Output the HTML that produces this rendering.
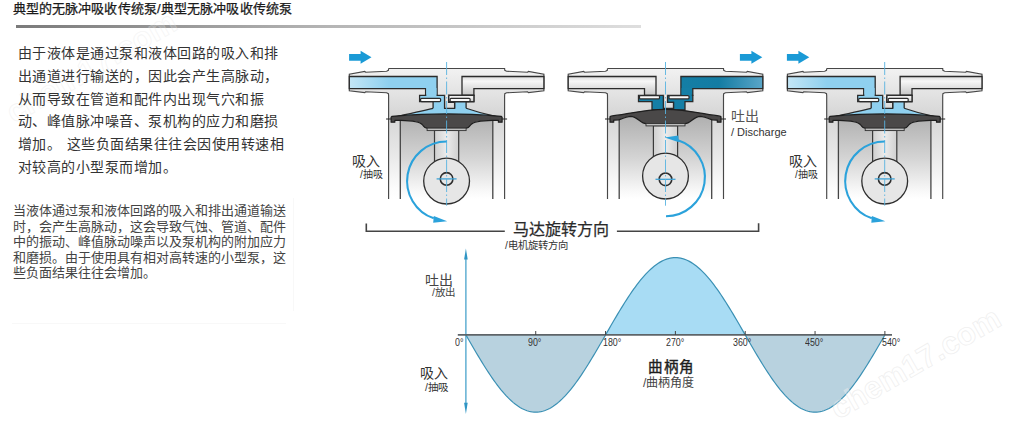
<!DOCTYPE html>
<html lang="zh-CN"><head><meta charset="utf-8"><style>
html,body{margin:0;padding:0;background:#fff;width:1012px;height:429px;overflow:hidden;position:relative}
body{font-family:"Liberation Sans",sans-serif;color:#333}
.t{position:absolute;white-space:nowrap;line-height:1}
.deg{font-size:10.8px;color:#333;transform:scaleX(0.82);transform-origin:0 0}
</style></head><body>
<svg width="1012" height="429" viewBox="0 0 1012 429" style="position:absolute;left:0;top:0">
<defs>
<linearGradient id="gbody" x1="0" y1="68" x2="0" y2="199" gradientUnits="userSpaceOnUse">
<stop offset="0" stop-color="#f2f2f2"/><stop offset="0.36" stop-color="#d6d6d6"/><stop offset="0.6" stop-color="#e4e4e4"/><stop offset="0.92" stop-color="#fcfcfc"/><stop offset="1" stop-color="#ffffff"/></linearGradient>
<linearGradient id="gbody2" x1="0" y1="0" x2="0" y2="1"><stop offset="0" stop-color="#f2f2f2"/><stop offset="1" stop-color="#d8d8d8"/></linearGradient>
<linearGradient id="gcyl" x1="0" y1="0" x2="0" y2="1"><stop offset="0" stop-color="#b0b0b0"/><stop offset="0.5" stop-color="#d4d4d4"/><stop offset="0.9" stop-color="#f8f8f8"/><stop offset="1" stop-color="#ffffff"/></linearGradient>
<linearGradient id="grod" x1="0" y1="0" x2="1" y2="0"><stop offset="0" stop-color="#cfcfcf"/><stop offset="0.5" stop-color="#ececec"/><stop offset="1" stop-color="#d0d0d0"/></linearGradient>
<linearGradient id="gchan" x1="0" y1="0" x2="0" y2="1"><stop offset="0" stop-color="#dcdcdc"/><stop offset="0.25" stop-color="#f7f7f7"/><stop offset="1" stop-color="#c6c6c6"/></linearGradient>
<linearGradient id="lblue" x1="0" y1="0" x2="1" y2="0"><stop offset="0" stop-color="#c4e6f6"/><stop offset="0.45" stop-color="#8fd0ef"/><stop offset="1" stop-color="#8fd0ef"/></linearGradient>
<linearGradient id="dblue" x1="665" y1="0" x2="763" y2="0" gradientUnits="userSpaceOnUse"><stop offset="0" stop-color="#157fa6"/><stop offset="0.55" stop-color="#137ca3"/><stop offset="1" stop-color="#5ba6c8"/></linearGradient>
<linearGradient id="gline" x1="0" y1="0" x2="1" y2="0"><stop offset="0" stop-color="#7a7a7a"/><stop offset="0.5" stop-color="#b5b5b5"/><stop offset="1" stop-color="#dedede"/></linearGradient>
</defs>
<path d="M12,323.5 H286 M293.5,198 V311" stroke="#f8f8f8" stroke-width="1" fill="none"/>
<rect x="16" y="25" width="625" height="3" fill="url(#gline)"/>
<polygon points="388.6,68.5 504.6,68.5 504.8,70.4 506.6,71.2 527.6,72.2 528.4,71.4 543.9,74.3 543.9,90.7 528.4,92.6 527.6,91.8 506.6,92.8 504.8,93.6 504.6,95.6 504.6,199 388.6,199 388.6,95.6 388.4,93.6 386.6,92.8 365.6,91.8 364.8,92.6 349.3,90.7 349.3,74.3 364.8,71.4 365.6,72.2 386.6,71.2 388.4,70.4" fill="url(#gbody)" stroke="none"/>
<rect x="400.3" y="117" width="92.5" height="82" fill="url(#gcyl)"/>
<polyline points="388.6,68.5 504.6,68.5 504.8,70.4 506.6,71.2 527.6,72.2 528.4,71.4 543.9,74.3 543.9,90.7 528.4,92.6 527.6,91.8 506.6,92.8 504.8,93.6 504.6,95.6 504.6,199" fill="none" stroke="#474747" stroke-width="1.15"/>
<polyline points="388.6,199 388.6,95.6 388.4,93.6 386.6,92.8 365.6,91.8 364.8,92.6 349.3,90.7 349.3,74.3 364.8,71.4 365.6,72.2 386.6,71.2 388.4,70.4 388.6,68.5" fill="none" stroke="#474747" stroke-width="1.15"/>
<line x1="400.3" y1="118" x2="400.3" y2="199" stroke="#444" stroke-width="1.3"/>
<line x1="492.8" y1="118" x2="492.8" y2="199" stroke="#444" stroke-width="1.3"/>
<polygon points="462,76.5 543.9,76.5 543.9,88.6 473.9,88.6 473.9,95.3 462,95.3" fill="url(#gchan)" stroke="#2b2b2b" stroke-width="1.3"/>
<polygon points="349.3,76.5 437.1,76.5 437.1,95.3 425.6,95.3 425.6,88.6 349.3,88.6" fill="url(#lblue)" stroke="#2b2b2b" stroke-width="1.3"/>
<polygon points="419.6,95.3 444.6,95.3 444.6,110 433.1,110 433.1,101.7 419.6,101.7" fill="#8fd0ef" stroke="#2b2b2b" stroke-width="1.3"/>
<polygon points="448.6,95.3 473.9,95.3 473.9,101.7 466.1,101.7 466.1,110 454.6,110 454.6,102.3 448.6,102.3" fill="#8fd0ef" stroke="#2b2b2b" stroke-width="1.3"/>
<rect x="448.6" y="95.3" width="25.3" height="6.4" fill="url(#gchan)" stroke="#2b2b2b" stroke-width="1.3"/>
<rect x="426.3" y="88" width="10.2" height="8.5" fill="#8fd0ef"/>
<path d="M433.1,108.3 C416.6,112 406.6,114.5 397.6,116.3 L495.6,116.3 C486.6,114.5 476.6,112 466.1,108.3 Z" fill="#8fd0ef" stroke="none"/>
<path d="M433.1,108.3 C416.6,112 406.6,114.5 397.6,116.3 M495.6,116.3 C486.6,114.5 476.6,112 466.1,108.3" fill="none" stroke="#2b2b2b" stroke-width="1.2"/>
<polygon points="444.6,95.3 448.6,95.3 448.6,102.3 454.6,102.3 454.6,108.3 444.6,108.3" fill="url(#gbody2)" stroke="none"/>
<polyline points="448.6,95.3 448.6,102.3 454.6,102.3 454.6,108.3 444.6,108.3 444.6,95.3" fill="none" stroke="#2b2b2b" stroke-width="1.3"/>
<rect x="420.6" y="98.3" width="20" height="3.3" rx="1" fill="#fafafa" stroke="#2b2b2b" stroke-width="1.2"/>
<rect x="450.1" y="98.3" width="20" height="3.3" rx="1" fill="#fafafa" stroke="#2b2b2b" stroke-width="1.2"/>
<path d="M386.1,119 H391.6 M501.6,119 H507.1" stroke="#222" stroke-width="1"/>
<path d="M392.1,116.3 C411.6,114.8 426.6,113.9 446.6,113.9 C466.6,113.9 481.6,114.8 501.1,116.3 L502.1,117.1 L502.1,122.2 L498.4,122.2 L498.4,120.3 L492.6,120.3 C478.6,120.5 472.6,122 470.6,125 C469.1,127.3 468.1,128.3 465.6,128.3 L427.6,128.3 C425.1,128.3 424.1,127.3 422.6,125 C420.6,122 414.6,120.5 400.6,120.3 L394.8,120.3 L394.8,122.2 L391.1,122.2 L391.1,117.1 Z" fill="#4a4848" stroke="#1e1e1e" stroke-width="1.2" stroke-linejoin="round"/>
<rect x="434.5" y="130.4" width="24.2" height="35.7" fill="url(#grod)" stroke="#3a3a3a" stroke-width="1.2"/>
<rect x="427.1" y="128.1" width="39" height="2.5" fill="#bdbdbd" stroke="#333" stroke-width="0.9"/>
<circle cx="446.6" cy="181.1" r="22.9" fill="#e6e6e6" stroke="#2e2e2e" stroke-width="1.3"/>
<circle cx="446.6" cy="178.9" r="6.3" fill="#e6e6e6" stroke="#2e2e2e" stroke-width="1.6"/>
<line x1="436.6" y1="178.9" x2="456.6" y2="178.9" stroke="#3fa3d6" stroke-width="1.3"/>
<line x1="446.6" y1="62" x2="446.6" y2="205.7" stroke="#58b3e0" stroke-width="0.9" stroke-dasharray="13,2.5,1.5,2.5"/>
<path d="M446.6,141.5 A39.5,39.5 0 0 0 433.74,218.35" fill="none" stroke="#2ba2db" stroke-width="2.1"/>
<polygon points="447.2,221.3 433.8,215.9 433.2,222.7" fill="#2ba2db"/>
<polygon points="607.5,68.5 723.5,68.5 723.7,70.4 725.5,71.2 746.5,72.2 747.3,71.4 762.8,74.3 762.8,90.7 747.3,92.6 746.5,91.8 725.5,92.8 723.7,93.6 723.5,95.6 723.5,199 607.5,199 607.5,95.6 607.3,93.6 605.5,92.8 584.5,91.8 583.7,92.6 568.2,90.7 568.2,74.3 583.7,71.4 584.5,72.2 605.5,71.2 607.3,70.4" fill="url(#gbody)" stroke="none"/>
<rect x="619.2" y="117" width="92.5" height="82" fill="url(#gcyl)"/>
<polyline points="607.5,68.5 723.5,68.5 723.7,70.4 725.5,71.2 746.5,72.2 747.3,71.4 762.8,74.3 762.8,90.7 747.3,92.6 746.5,91.8 725.5,92.8 723.7,93.6 723.5,95.6 723.5,199" fill="none" stroke="#474747" stroke-width="1.15"/>
<polyline points="607.5,199 607.5,95.6 607.3,93.6 605.5,92.8 584.5,91.8 583.7,92.6 568.2,90.7 568.2,74.3 583.7,71.4 584.5,72.2 605.5,71.2 607.3,70.4 607.5,68.5" fill="none" stroke="#474747" stroke-width="1.15"/>
<line x1="619.2" y1="118" x2="619.2" y2="199" stroke="#444" stroke-width="1.3"/>
<line x1="711.7" y1="118" x2="711.7" y2="199" stroke="#444" stroke-width="1.3"/>
<polygon points="568.2,76.5 656,76.5 656,95.3 644.5,95.3 644.5,88.6 568.2,88.6" fill="url(#gchan)" stroke="#2b2b2b" stroke-width="1.3"/>
<polygon points="680.9,76.5 762.8,76.5 762.8,88.6 692.8,88.6 692.8,95.3 680.9,95.3" fill="url(#dblue)" stroke="#2b2b2b" stroke-width="1.3"/>
<polygon points="638.5,95.3 663.5,95.3 663.5,110 652,110 652,101.7 638.5,101.7" fill="#157fa6" stroke="#2b2b2b" stroke-width="1.3"/>
<polygon points="667.5,95.3 692.8,95.3 692.8,101.7 685,101.7 685,110 673.5,110 673.5,102.3 667.5,102.3" fill="#157fa6" stroke="#2b2b2b" stroke-width="1.3"/>
<rect x="681.6" y="88" width="10.2" height="8.5" fill="#157fa6"/>
<polygon points="663.5,95.3 667.5,95.3 667.5,102.3 673.5,102.3 673.5,108.3 663.5,108.3" fill="url(#gbody2)" stroke="none"/>
<polyline points="667.5,95.3 667.5,102.3 673.5,102.3 673.5,108.3 663.5,108.3 663.5,95.3" fill="none" stroke="#2b2b2b" stroke-width="1.3"/>
<rect x="639.5" y="95.6" width="20" height="3.3" rx="1" fill="#fafafa" stroke="#2b2b2b" stroke-width="1.2"/>
<rect x="669" y="95.6" width="20" height="3.3" rx="1" fill="#fafafa" stroke="#2b2b2b" stroke-width="1.2"/>
<path d="M605,119 H610.5 M720.5,119 H726" stroke="#222" stroke-width="1"/>
<path d="M611.2,116 C623.5,115 643.5,109.3 665.5,109.3 C687.5,109.3 707.5,115 719.8,116 L721,116.8 L721,122.2 L717.3,122.2 L717.3,120.2 L712.5,120 C707.5,118 703.5,116.3 700.2,116.3 C693.5,116.5 690.5,123.7 684.9,123.7 L646.1,123.7 C640.5,123.7 637.5,116.5 630.8,116.3 C627.5,116.3 623.5,118 618.5,120 L613.7,120.2 L613.7,122.2 L610,122.2 L610,116.8 Z" fill="#4a4848" stroke="#1e1e1e" stroke-width="1.2" stroke-linejoin="round"/>
<rect x="653.4" y="125.7" width="24.2" height="35.4" fill="url(#grod)" stroke="#3a3a3a" stroke-width="1.2"/>
<rect x="646" y="123.5" width="39" height="2.4" fill="#bdbdbd" stroke="#333" stroke-width="0.9"/>
<circle cx="665.5" cy="176.1" r="22.9" fill="#e6e6e6" stroke="#2e2e2e" stroke-width="1.3"/>
<circle cx="665.5" cy="179.3" r="6.3" fill="#e6e6e6" stroke="#2e2e2e" stroke-width="1.6"/>
<line x1="655.5" y1="179.3" x2="675.5" y2="179.3" stroke="#3fa3d6" stroke-width="1.3"/>
<line x1="665.5" y1="62" x2="665.5" y2="205.7" stroke="#58b3e0" stroke-width="0.9" stroke-dasharray="13,2.5,1.5,2.5"/>
<path d="M678.02,140.3 A38.9,38.9 0 0 1 666,216.2" fill="none" stroke="#2ba2db" stroke-width="2.1"/>
<polygon points="664.7,137.4 678.3,135.6 678.9,142.3" fill="#2ba2db"/>
<polygon points="826.7,68.5 942.7,68.5 942.9,70.4 944.7,71.2 965.7,72.2 966.5,71.4 982,74.3 982,90.7 966.5,92.6 965.7,91.8 944.7,92.8 942.9,93.6 942.7,95.6 942.7,199 826.7,199 826.7,95.6 826.5,93.6 824.7,92.8 803.7,91.8 802.9,92.6 787.4,90.7 787.4,74.3 802.9,71.4 803.7,72.2 824.7,71.2 826.5,70.4" fill="url(#gbody)" stroke="none"/>
<rect x="838.4" y="117" width="92.5" height="82" fill="url(#gcyl)"/>
<polyline points="826.7,68.5 942.7,68.5 942.9,70.4 944.7,71.2 965.7,72.2 966.5,71.4 982,74.3 982,90.7 966.5,92.6 965.7,91.8 944.7,92.8 942.9,93.6 942.7,95.6 942.7,199" fill="none" stroke="#474747" stroke-width="1.15"/>
<polyline points="826.7,199 826.7,95.6 826.5,93.6 824.7,92.8 803.7,91.8 802.9,92.6 787.4,90.7 787.4,74.3 802.9,71.4 803.7,72.2 824.7,71.2 826.5,70.4 826.7,68.5" fill="none" stroke="#474747" stroke-width="1.15"/>
<line x1="838.4" y1="118" x2="838.4" y2="199" stroke="#444" stroke-width="1.3"/>
<line x1="930.9" y1="118" x2="930.9" y2="199" stroke="#444" stroke-width="1.3"/>
<polygon points="900.1,76.5 982,76.5 982,88.6 912,88.6 912,95.3 900.1,95.3" fill="url(#gchan)" stroke="#2b2b2b" stroke-width="1.3"/>
<polygon points="787.4,76.5 875.2,76.5 875.2,95.3 863.7,95.3 863.7,88.6 787.4,88.6" fill="url(#lblue)" stroke="#2b2b2b" stroke-width="1.3"/>
<polygon points="857.7,95.3 882.7,95.3 882.7,110 871.2,110 871.2,101.7 857.7,101.7" fill="#8fd0ef" stroke="#2b2b2b" stroke-width="1.3"/>
<polygon points="886.7,95.3 912,95.3 912,101.7 904.2,101.7 904.2,110 892.7,110 892.7,102.3 886.7,102.3" fill="#8fd0ef" stroke="#2b2b2b" stroke-width="1.3"/>
<rect x="886.7" y="95.3" width="25.3" height="6.4" fill="url(#gchan)" stroke="#2b2b2b" stroke-width="1.3"/>
<rect x="864.4" y="88" width="10.2" height="8.5" fill="#8fd0ef"/>
<path d="M871.2,108.3 C854.7,112 844.7,114.5 835.7,116.3 L933.7,116.3 C924.7,114.5 914.7,112 904.2,108.3 Z" fill="#8fd0ef" stroke="none"/>
<path d="M871.2,108.3 C854.7,112 844.7,114.5 835.7,116.3 M933.7,116.3 C924.7,114.5 914.7,112 904.2,108.3" fill="none" stroke="#2b2b2b" stroke-width="1.2"/>
<polygon points="882.7,95.3 886.7,95.3 886.7,102.3 892.7,102.3 892.7,108.3 882.7,108.3" fill="url(#gbody2)" stroke="none"/>
<polyline points="886.7,95.3 886.7,102.3 892.7,102.3 892.7,108.3 882.7,108.3 882.7,95.3" fill="none" stroke="#2b2b2b" stroke-width="1.3"/>
<rect x="858.7" y="98.3" width="20" height="3.3" rx="1" fill="#fafafa" stroke="#2b2b2b" stroke-width="1.2"/>
<rect x="888.2" y="98.3" width="20" height="3.3" rx="1" fill="#fafafa" stroke="#2b2b2b" stroke-width="1.2"/>
<path d="M824.2,119 H829.7 M939.7,119 H945.2" stroke="#222" stroke-width="1"/>
<path d="M830.2,116.3 C849.7,114.8 864.7,113.9 884.7,113.9 C904.7,113.9 919.7,114.8 939.2,116.3 L940.2,117.1 L940.2,122.2 L936.5,122.2 L936.5,120.3 L930.7,120.3 C916.7,120.5 910.7,122 908.7,125 C907.2,127.3 906.2,128.3 903.7,128.3 L865.7,128.3 C863.2,128.3 862.2,127.3 860.7,125 C858.7,122 852.7,120.5 838.7,120.3 L832.9,120.3 L832.9,122.2 L829.2,122.2 L829.2,117.1 Z" fill="#4a4848" stroke="#1e1e1e" stroke-width="1.2" stroke-linejoin="round"/>
<rect x="872.6" y="130.4" width="24.2" height="35.7" fill="url(#grod)" stroke="#3a3a3a" stroke-width="1.2"/>
<rect x="865.2" y="128.1" width="39" height="2.5" fill="#bdbdbd" stroke="#333" stroke-width="0.9"/>
<circle cx="884.7" cy="181.1" r="22.9" fill="#e6e6e6" stroke="#2e2e2e" stroke-width="1.3"/>
<circle cx="884.7" cy="178.9" r="6.3" fill="#e6e6e6" stroke="#2e2e2e" stroke-width="1.6"/>
<line x1="874.7" y1="178.9" x2="894.7" y2="178.9" stroke="#3fa3d6" stroke-width="1.3"/>
<line x1="884.7" y1="62" x2="884.7" y2="205.7" stroke="#58b3e0" stroke-width="0.9" stroke-dasharray="13,2.5,1.5,2.5"/>
<path d="M884.7,141.5 A39.5,39.5 0 0 0 871.84,218.35" fill="none" stroke="#2ba2db" stroke-width="2.1"/>
<polygon points="885.3,221.3 871.9,215.9 871.3,222.7" fill="#2ba2db"/>
<polygon points="349.1,54 360.6,54 360.6,50.8 371.5,57.3 360.6,63.8 360.6,60.8 349.1,60.8" fill="#1a9ad6"/>
<polygon points="739.9,54 751.4,54 751.4,50.8 762.3,57.3 751.4,63.8 751.4,60.8 739.9,60.8" fill="#1a9ad6"/>
<polygon points="786.9,54 798.4,54 798.4,50.8 809.3,57.3 798.4,63.8 798.4,60.8 786.9,60.8" fill="#1a9ad6"/>
<polyline points="366.3,223.4 366.3,231.2 504.8,231.2" fill="none" stroke="#444" stroke-width="1.6"/>
<polyline points="616.9,231.2 758.6,231.2 758.6,223.3" fill="none" stroke="#444" stroke-width="1.6"/>
<polygon points="465.9,334.9 468.23,338.95 470.56,342.98 472.88,346.99 475.21,350.97 477.54,354.91 479.87,358.79 482.19,362.6 484.52,366.34 486.85,369.99 489.18,373.55 491.5,377 493.83,380.34 496.16,383.55 498.49,386.62 500.81,389.56 503.14,392.35 505.47,394.97 507.8,397.44 510.13,399.73 512.45,401.84 514.78,403.77 517.11,405.52 519.44,407.07 521.76,408.42 524.09,409.57 526.42,410.51 528.75,411.25 531.07,411.78 533.4,412.09 535.73,412.2 538.06,412.09 540.39,411.78 542.71,411.25 545.04,410.51 547.37,409.57 549.7,408.42 552.02,407.07 554.35,405.52 556.68,403.77 559.01,401.84 561.33,399.73 563.66,397.44 565.99,394.97 568.32,392.35 570.64,389.56 572.97,386.62 575.3,383.55 577.63,380.34 579.96,377 582.28,373.55 584.61,369.99 586.94,366.34 589.27,362.6 591.59,358.79 593.92,354.91 596.25,350.97 598.58,346.99 600.9,342.98 603.23,338.95 605.56,334.9" fill="#b8d2df"/>
<polygon points="605.56,334.9 607.89,330.85 610.22,326.82 612.54,322.81 614.87,318.83 617.2,314.89 619.53,311.01 621.85,307.2 624.18,303.46 626.51,299.81 628.84,296.25 631.16,292.8 633.49,289.46 635.82,286.25 638.15,283.18 640.47,280.24 642.8,277.45 645.13,274.83 647.46,272.36 649.79,270.07 652.11,267.96 654.44,266.03 656.77,264.28 659.1,262.73 661.42,261.38 663.75,260.23 666.08,259.29 668.41,258.55 670.73,258.02 673.06,257.71 675.39,257.6 677.72,257.71 680.05,258.02 682.37,258.55 684.7,259.29 687.03,260.23 689.36,261.38 691.68,262.73 694.01,264.28 696.34,266.03 698.67,267.96 700.99,270.07 703.32,272.36 705.65,274.83 707.98,277.45 710.3,280.24 712.63,283.18 714.96,286.25 717.29,289.46 719.62,292.8 721.94,296.25 724.27,299.81 726.6,303.46 728.93,307.2 731.25,311.01 733.58,314.89 735.91,318.83 738.24,322.81 740.56,326.82 742.89,330.85 745.22,334.9" fill="#a8dcf4"/>
<polygon points="745.22,334.9 747.55,338.95 749.88,342.98 752.2,346.99 754.53,350.97 756.86,354.91 759.19,358.79 761.51,362.6 763.84,366.34 766.17,369.99 768.5,373.55 770.82,377 773.15,380.34 775.48,383.55 777.81,386.62 780.13,389.56 782.46,392.35 784.79,394.97 787.12,397.44 789.45,399.73 791.77,401.84 794.1,403.77 796.43,405.52 798.76,407.07 801.08,408.42 803.41,409.57 805.74,410.51 808.07,411.25 810.39,411.78 812.72,412.09 815.05,412.2 817.38,412.09 819.71,411.78 822.03,411.25 824.36,410.51 826.69,409.57 829.02,408.42 831.34,407.07 833.67,405.52 836,403.77 838.33,401.84 840.65,399.73 842.98,397.44 845.31,394.97 847.64,392.35 849.96,389.56 852.29,386.62 854.62,383.55 856.95,380.34 859.28,377 861.6,373.55 863.93,369.99 866.26,366.34 868.59,362.6 870.91,358.79 873.24,354.91 875.57,350.97 877.9,346.99 880.22,342.98 882.55,338.95 884.88,334.9" fill="#b8d2df"/>
<polyline points="465.9,334.9 467.65,337.93 469.39,340.96 471.14,343.99 472.88,346.99 474.63,349.98 476.37,352.95 478.12,355.88 479.87,358.79 481.61,361.65 483.36,364.48 485.1,367.26 486.85,369.99 488.59,372.67 490.34,375.29 492.09,377.85 493.83,380.34 495.58,382.76 497.32,385.1 499.07,387.37 500.81,389.56 502.56,391.66 504.31,393.68 506.05,395.6 507.8,397.44 509.54,399.17 511.29,400.81 513.04,402.34 514.78,403.77 516.53,405.1 518.27,406.32 520.02,407.42 521.76,408.42 523.51,409.3 525.26,410.06 527,410.71 528.75,411.25 530.49,411.66 532.24,411.96 533.98,412.14 535.73,412.2 537.48,412.14 539.22,411.96 540.97,411.66 542.71,411.25 544.46,410.71 546.2,410.06 547.95,409.3 549.7,408.42 551.44,407.42 553.19,406.32 554.93,405.1 556.68,403.77 558.42,402.34 560.17,400.81 561.92,399.17 563.66,397.44 565.41,395.6 567.15,393.68 568.9,391.66 570.64,389.56 572.39,387.37 574.14,385.1 575.88,382.76 577.63,380.34 579.37,377.85 581.12,375.29 582.87,372.67 584.61,369.99 586.36,367.26 588.1,364.48 589.85,361.65 591.59,358.79 593.34,355.88 595.09,352.95 596.83,349.98 598.58,346.99 600.32,343.99 602.07,340.96 603.81,337.93 605.56,334.9 607.31,331.87 609.05,328.84 610.8,325.81 612.54,322.81 614.29,319.82 616.03,316.85 617.78,313.92 619.53,311.01 621.27,308.15 623.02,305.32 624.76,302.54 626.51,299.81 628.25,297.13 630,294.51 631.75,291.95 633.49,289.46 635.24,287.04 636.98,284.7 638.73,282.43 640.47,280.24 642.22,278.14 643.97,276.12 645.71,274.2 647.46,272.36 649.2,270.63 650.95,268.99 652.7,267.46 654.44,266.03 656.19,264.7 657.93,263.48 659.68,262.38 661.42,261.38 663.17,260.5 664.92,259.74 666.66,259.09 668.41,258.55 670.15,258.14 671.9,257.84 673.64,257.66 675.39,257.6 677.14,257.66 678.88,257.84 680.63,258.14 682.37,258.55 684.12,259.09 685.86,259.74 687.61,260.5 689.36,261.38 691.1,262.38 692.85,263.48 694.59,264.7 696.34,266.03 698.08,267.46 699.83,268.99 701.58,270.63 703.32,272.36 705.07,274.2 706.81,276.12 708.56,278.14 710.3,280.24 712.05,282.43 713.8,284.7 715.54,287.04 717.29,289.46 719.03,291.95 720.78,294.51 722.53,297.13 724.27,299.81 726.02,302.54 727.76,305.32 729.51,308.15 731.25,311.01 733,313.92 734.75,316.85 736.49,319.82 738.24,322.81 739.98,325.81 741.73,328.84 743.47,331.87 745.22,334.9 746.97,337.93 748.71,340.96 750.46,343.99 752.2,346.99 753.95,349.98 755.69,352.95 757.44,355.88 759.19,358.79 760.93,361.65 762.68,364.48 764.42,367.26 766.17,369.99 767.91,372.67 769.66,375.29 771.41,377.85 773.15,380.34 774.9,382.76 776.64,385.1 778.39,387.37 780.13,389.56 781.88,391.66 783.63,393.68 785.37,395.6 787.12,397.44 788.86,399.17 790.61,400.81 792.36,402.34 794.1,403.77 795.85,405.1 797.59,406.32 799.34,407.42 801.08,408.42 802.83,409.3 804.58,410.06 806.32,410.71 808.07,411.25 809.81,411.66 811.56,411.96 813.3,412.14 815.05,412.2 816.8,412.14 818.54,411.96 820.29,411.66 822.03,411.25 823.78,410.71 825.52,410.06 827.27,409.3 829.02,408.42 830.76,407.42 832.51,406.32 834.25,405.1 836,403.77 837.74,402.34 839.49,400.81 841.24,399.17 842.98,397.44 844.73,395.6 846.47,393.68 848.22,391.66 849.96,389.56 851.71,387.37 853.46,385.1 855.2,382.76 856.95,380.34 858.69,377.85 860.44,375.29 862.19,372.67 863.93,369.99 865.68,367.26 867.42,364.48 869.17,361.65 870.91,358.79 872.66,355.88 874.41,352.95 876.15,349.98 877.9,346.99 879.64,343.99 881.39,340.96 883.13,337.93 884.88,334.9" fill="none" stroke="#3a90b4" stroke-width="1.2"/>
<line x1="465.9" y1="256" x2="465.9" y2="408" stroke="#3a9cc8" stroke-width="1.2"/>
<polygon points="465.9,248.4 467.7,259.6 464.1,259.6" fill="#2f95c4"/>
<polygon points="465.9,414 467.7,402.8 464.1,402.8" fill="#2f95c4"/>
<line x1="457.8" y1="334.9" x2="892" y2="334.9" stroke="#5e6468" stroke-width="1.6"/>
<line x1="535.73" y1="331" x2="535.73" y2="335" stroke="#444" stroke-width="1"/>
<line x1="605.56" y1="331" x2="605.56" y2="335" stroke="#444" stroke-width="1"/>
<line x1="675.39" y1="331" x2="675.39" y2="335" stroke="#444" stroke-width="1"/>
<line x1="745.22" y1="331" x2="745.22" y2="335" stroke="#444" stroke-width="1"/>
<line x1="815.05" y1="331" x2="815.05" y2="335" stroke="#444" stroke-width="1"/>
<line x1="884.88" y1="331" x2="884.88" y2="335" stroke="#444" stroke-width="1"/>
<g font-family="Liberation Sans" font-size="31.5" font-weight="bold" fill="#ffffff" fill-opacity="0.3" stroke="#e2e2e2" stroke-opacity="0.55" stroke-width="0.8">
<text x="0" y="0" transform="translate(838,420) rotate(-30)">chem17.com</text>
<text x="0" y="0" transform="translate(14,124) rotate(-30)" opacity="0.6">chem17.com</text>
</g>
</svg>
<div class="t" style="left:12.5px;top:2px;font-size:13px;letter-spacing:0.14px;color:#1a1a1a;-webkit-text-stroke:0.25px #1a1a1a">典型的无脉冲吸收传统泵/典型无脉冲吸收传统泵</div>
<div class="t" style="left:17.5px;top:42px;font-size:14px;letter-spacing:0.5px;line-height:22.8px;color:#333">由于液体是通过泵和液体回路的吸入和排<br>出通道进行输送的，因此会产生高脉动，<br>从而导致在管道和配件内出现气穴和振<br>动、峰值脉冲噪音、泵机构的应力和磨损<br>增加。<span style="letter-spacing:2px"> </span>这些负面结果往往会因使用转速相<br>对较高的小型泵而增加。</div>
<div class="t" style="left:13px;top:203px;font-size:13px;line-height:15.5px;color:#444">当液体通过泵和液体回路的吸入和排出通道输送<br>时，会产生高脉动，这会导致气蚀、管道、配件<br>中的振动、峰值脉动噪声以及泵机构的附加应力<br>和磨损。由于使用具有相对高转速的小型泵，这<br>些负面结果往往会增加。</div>
<div class="t" style="left:352px;top:154px;font-size:14px;color:#333">吸入</div>
<div class="t" style="left:360px;top:170px;font-size:10px;color:#333">/抽吸</div>
<div class="t" style="left:731px;top:109px;font-size:14px;color:#555">吐出</div>
<div class="t" style="left:731px;top:126.5px;font-size:11px;color:#333">/ Discharge</div>
<div class="t" style="left:789px;top:154px;font-size:14px;color:#333">吸入</div>
<div class="t" style="left:795px;top:170px;font-size:10px;color:#333">/抽吸</div>
<div class="t" style="left:513px;top:221.5px;font-size:16px;color:#2a2a2a;-webkit-text-stroke:0.25px #2a2a2a">马达旋转方向</div>
<div class="t" style="left:505px;top:240.5px;font-size:10.3px;color:#333">/电机旋转方向</div>
<div class="t" style="left:425px;top:273px;font-size:14px;color:#444">吐出</div>
<div class="t" style="left:432px;top:287px;font-size:10.5px;color:#444">/放出</div>
<div class="t" style="left:420px;top:366px;font-size:14px;color:#333">吸入</div>
<div class="t" style="left:425px;top:382px;font-size:10.5px;color:#333">/抽吸</div>
<div class="t" style="left:648px;top:360px;font-size:14.5px;letter-spacing:1.6px;color:#1e1e1e;-webkit-text-stroke:0.4px #1e1e1e">曲柄角</div>
<div class="t" style="left:643px;top:376.5px;font-size:12px;color:#444">/曲柄角度</div>
<div class="t deg" style="left:455px;top:337px">0°</div>
<div class="t deg" style="left:528px;top:337px">90°</div>
<div class="t deg" style="left:603px;top:337px">180°</div>
<div class="t deg" style="left:666px;top:337px">270°</div>
<div class="t deg" style="left:733px;top:337px">360°</div>
<div class="t deg" style="left:805px;top:337px">450°</div>
<div class="t deg" style="left:882px;top:337px">540°</div>
</body></html>
